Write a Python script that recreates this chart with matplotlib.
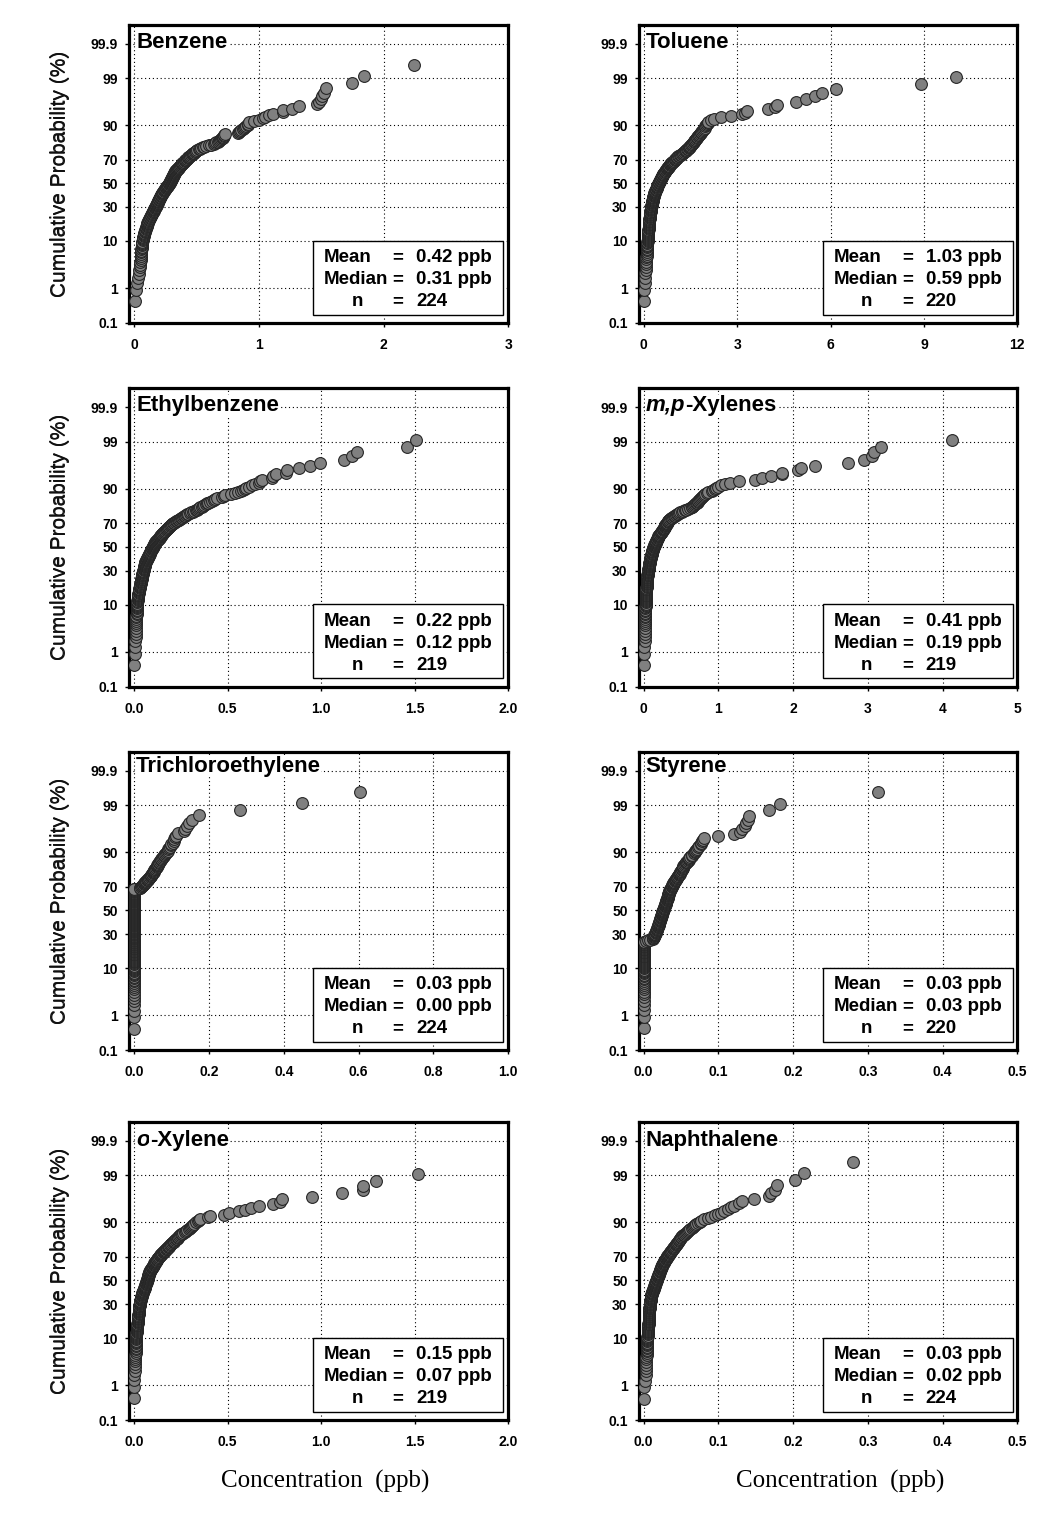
import matplotlib
matplotlib.use('Agg')
import matplotlib.pyplot as plt
from matplotlib.patches import Rectangle
from matplotlib.ticker import NullLocator
from statistics import NormalDist
import numpy as np

plt.rcParams['font.family'] = ['Liberation Sans', 'DejaVu Sans']

# sorted concentrations (ppb)
benzene = [
    0.005, 0.013, 0.02, 0.03, 0.04, 0.042, 0.045, 0.047, 0.05, 0.052,
    0.053, 0.054, 0.055, 0.056, 0.057, 0.058, 0.06, 0.061, 0.062, 0.064, 0.065, 0.067,
    0.069, 0.071, 0.073, 0.075, 0.077, 0.079, 0.081, 0.083, 0.085, 0.087, 0.089, 0.091, 0.093, 0.096,
    0.098, 0.1, 0.102, 0.104, 0.105, 0.107,
    0.11, 0.113, 0.115, 0.118, 0.12, 0.123, 0.126, 0.128, 0.131, 0.134, 0.136, 0.139, 0.142, 0.144, 0.147,
    0.149, 0.151, 0.154, 0.156, 0.158, 0.161, 0.163, 0.165, 0.168, 0.17, 0.172, 0.175, 0.177, 0.18,
    0.182, 0.185, 0.187,
    0.189, 0.191, 0.193, 0.195, 0.197, 0.199, 0.201, 0.203, 0.205, 0.207, 0.209, 0.211, 0.213, 0.215,
    0.217, 0.219, 0.221, 0.224, 0.227,
    0.23, 0.233, 0.236, 0.239, 0.242, 0.245, 0.248, 0.251, 0.254, 0.257, 0.26, 0.263, 0.266, 0.269,
    0.272, 0.275, 0.278, 0.281, 0.284,
    0.286, 0.288, 0.29, 0.292, 0.294, 0.296, 0.298, 0.3, 0.302, 0.304, 0.306, 0.308, 0.31, 0.312,
    0.314, 0.316, 0.318, 0.32, 0.322, 0.324, 0.326, 0.328, 0.33, 0.332,
    0.336, 0.34, 0.344, 0.348, 0.352, 0.356, 0.36, 0.364, 0.368, 0.372, 0.376, 0.379, 0.382, 0.385, 0.388,
    0.392, 0.397, 0.402, 0.407, 0.412, 0.417, 0.422, 0.427, 0.432, 0.436, 0.44,
    0.446, 0.452, 0.458, 0.464, 0.47, 0.476, 0.482, 0.488, 0.494, 0.5, 0.507,
    0.52, 0.53, 0.54, 0.55, 0.56, 0.573, 0.6, 0.62, 0.64, 0.65,
    0.66, 0.67, 0.68, 0.69, 0.7, 0.705, 0.71, 0.715, 0.72, 0.725, 0.733,
    0.83, 0.84, 0.85, 0.86, 0.87, 0.88, 0.89, 0.9, 0.91, 0.915, 0.92,
    0.96, 1.0, 1.03, 1.05, 1.08, 1.11, 1.19, 1.19, 1.27, 1.32,
    1.47, 1.48, 1.5, 1.51, 1.52, 1.54, 1.745, 1.84, 2.245,
]

toluene = [
    0.005, 0.02, 0.035, 0.045, 0.052,
    0.058, 0.064, 0.07, 0.076, 0.082, 0.088, 0.094, 0.1,
    0.102, 0.105, 0.107, 0.11, 0.112, 0.115, 0.117, 0.12, 0.122, 0.125, 0.127, 0.13, 0.132, 0.135,
    0.137, 0.14,
    0.143, 0.146, 0.149, 0.151, 0.154, 0.156, 0.159, 0.161, 0.164, 0.166, 0.169, 0.171, 0.173, 0.175,
    0.177, 0.179, 0.18,
    0.183, 0.186, 0.189, 0.192, 0.195, 0.198, 0.201, 0.204, 0.207, 0.21, 0.213, 0.216, 0.219, 0.222,
    0.225, 0.228, 0.231, 0.234, 0.237, 0.24,
    0.244, 0.248, 0.252, 0.256, 0.26, 0.264, 0.268, 0.272, 0.276, 0.28, 0.284, 0.288, 0.292, 0.296,
    0.3, 0.304, 0.308, 0.312, 0.316, 0.32, 0.324, 0.328, 0.332, 0.336, 0.34,
    0.347, 0.354, 0.361, 0.368, 0.375, 0.382, 0.389, 0.396, 0.403, 0.41, 0.417, 0.424, 0.431, 0.438,
    0.445, 0.452, 0.46, 0.47, 0.48,
    0.488, 0.496, 0.504, 0.512, 0.52, 0.528, 0.536, 0.544, 0.552, 0.56, 0.568, 0.576, 0.584, 0.592,
    0.6, 0.608, 0.616, 0.624, 0.63,
    0.643, 0.656, 0.669, 0.682, 0.695, 0.708, 0.721, 0.734, 0.747, 0.76, 0.773, 0.786, 0.799, 0.812,
    0.825, 0.838, 0.851, 0.865, 0.88,
    0.9, 0.92, 0.94, 0.96, 0.98, 1.0, 1.02, 1.04, 1.06, 1.07, 1.08, 1.1,
    1.13, 1.16, 1.19, 1.22, 1.25, 1.27, 1.3, 1.32, 1.35, 1.37,
    1.39, 1.41, 1.44, 1.46, 1.48, 1.5, 1.52, 1.54, 1.56, 1.58,
    1.6, 1.62, 1.64, 1.66, 1.68, 1.7, 1.72, 1.74,
    1.76, 1.78, 1.8, 1.83, 1.85, 1.88, 1.9,
    1.93, 1.96, 1.98, 2.01, 2.03, 2.05, 2.08,
    2.16, 2.27, 2.47, 2.79, 3.16, 3.24, 3.31, 4.0, 4.23, 4.29, 4.88, 5.2, 5.51, 5.73, 6.18,
    8.92, 10.02, 14.0,
]

ethylbenzene = [
    0.0, 0.004, 0.006, 0.007, 0.008, 0.009, 0.01, 0.01,
    0.011, 0.011, 0.012, 0.012, 0.013, 0.013, 0.014, 0.014, 0.015, 0.015, 0.015, 0.016,
    0.016, 0.017, 0.017, 0.018, 0.018, 0.019, 0.019, 0.02, 0.021, 0.021, 0.022, 0.023, 0.023, 0.024,
    0.025, 0.026, 0.027, 0.028, 0.029, 0.03, 0.031, 0.032, 0.033, 0.034, 0.034, 0.035, 0.036, 0.036,
    0.037, 0.038, 0.038, 0.039, 0.04, 0.04, 0.041, 0.042,
    0.043, 0.044, 0.045, 0.045, 0.046, 0.047, 0.048, 0.048, 0.049, 0.05, 0.051, 0.051, 0.052, 0.053,
    0.054, 0.054, 0.055, 0.056, 0.057, 0.057, 0.058, 0.059, 0.06, 0.06,
    0.061, 0.062, 0.064, 0.065, 0.067, 0.068, 0.07, 0.071, 0.073, 0.074, 0.076, 0.077, 0.078, 0.08,
    0.081, 0.082, 0.083, 0.085, 0.086,
    0.087, 0.088, 0.09, 0.091, 0.093, 0.094, 0.096, 0.097, 0.099, 0.1, 0.101, 0.103, 0.104, 0.106,
    0.107, 0.108, 0.11, 0.111, 0.112,
    0.114, 0.116, 0.119, 0.121, 0.124, 0.126, 0.128, 0.131, 0.133, 0.136, 0.138, 0.14, 0.143, 0.145,
    0.148, 0.15, 0.152, 0.155, 0.157,
    0.159, 0.162, 0.165, 0.168, 0.171, 0.174, 0.177, 0.18, 0.183, 0.186, 0.189, 0.192, 0.195, 0.198,
    0.201, 0.204, 0.208, 0.212,
    0.218, 0.223, 0.229, 0.234, 0.24, 0.245, 0.251, 0.256, 0.262, 0.267, 0.272, 0.278, 0.283,
    0.29, 0.298, 0.306, 0.314, 0.322, 0.33, 0.337,
    0.34, 0.347, 0.354, 0.361, 0.368, 0.375, 0.382,
    0.39, 0.397, 0.405, 0.415, 0.425,
    0.435, 0.444, 0.47, 0.48, 0.488, 0.52, 0.542, 0.555, 0.569, 0.58, 0.595, 0.6, 0.613, 0.63,
    0.649, 0.667, 0.675, 0.684, 0.735, 0.745, 0.756, 0.81, 0.82, 0.88, 0.94, 0.993,
    1.121, 1.166, 1.189, 1.46, 1.508, 2.6,
]

mp_xylenes = [
    0.0, 0.006, 0.01,
    0.011, 0.012, 0.013, 0.014, 0.015, 0.016, 0.016, 0.017, 0.018,
    0.019, 0.019, 0.02, 0.021, 0.021, 0.022, 0.022, 0.023, 0.024, 0.024, 0.025, 0.025, 0.026, 0.027,
    0.027, 0.028, 0.028, 0.029, 0.029, 0.03, 0.03, 0.031,
    0.032, 0.033, 0.033, 0.034, 0.035, 0.036, 0.037, 0.037, 0.038, 0.039, 0.04, 0.041, 0.041, 0.042,
    0.043, 0.044, 0.045, 0.045, 0.046, 0.047, 0.048, 0.048, 0.049,
    0.05, 0.052, 0.053, 0.054, 0.056, 0.057, 0.058, 0.06, 0.061, 0.062, 0.063, 0.065, 0.066, 0.067,
    0.069, 0.07, 0.071, 0.072, 0.074, 0.075, 0.076, 0.077, 0.078, 0.079, 0.08, 0.081, 0.082, 0.084,
    0.085,
    0.087, 0.089, 0.091, 0.093, 0.095, 0.097, 0.099, 0.101, 0.103, 0.105, 0.107, 0.109, 0.111, 0.113,
    0.115, 0.117, 0.119, 0.121, 0.123, 0.125, 0.127, 0.129, 0.132, 0.135, 0.137, 0.14,
    0.143, 0.146, 0.149, 0.152, 0.155, 0.158, 0.161, 0.164, 0.167, 0.17, 0.173, 0.176, 0.179, 0.182,
    0.185, 0.188, 0.191, 0.195, 0.2,
    0.205, 0.21, 0.215, 0.22, 0.225, 0.23, 0.235, 0.24, 0.245, 0.25, 0.255, 0.26, 0.265, 0.27,
    0.274, 0.278, 0.282, 0.285,
    0.29, 0.295, 0.3, 0.305, 0.31, 0.315, 0.32, 0.325, 0.33, 0.337, 0.343, 0.35,
    0.36, 0.375, 0.39, 0.405, 0.415, 0.43, 0.44,
    0.46, 0.475, 0.49, 0.51, 0.53, 0.55, 0.57, 0.59, 0.615, 0.64,
    0.65, 0.66, 0.67, 0.68, 0.695, 0.71,
    0.72, 0.73, 0.74, 0.75, 0.76, 0.78, 0.79, 0.8, 0.82, 0.84, 0.86, 0.91, 0.93, 0.95, 0.97,
    1.0, 1.04, 1.09, 1.15, 1.27, 1.49, 1.58, 1.71, 1.845, 1.85, 2.07, 2.1, 2.29, 2.73, 2.95,
    3.05, 3.08, 3.17, 4.13, 6.0,
]

trichloroethylene = [0.0] * 154 + [
    0.015,
    0.017, 0.018, 0.02, 0.021, 0.023, 0.024, 0.026, 0.027, 0.029, 0.03, 0.032, 0.033,
    0.035, 0.036, 0.038, 0.039, 0.041, 0.042, 0.044, 0.045, 0.046, 0.047, 0.048, 0.05, 0.051,
    0.052, 0.053, 0.054, 0.056, 0.057, 0.058, 0.06, 0.061, 0.062, 0.064, 0.065, 0.066, 0.067,
    0.069, 0.071, 0.073, 0.075, 0.077, 0.079, 0.081, 0.083, 0.085, 0.087, 0.09, 0.092, 0.094,
    0.096, 0.098, 0.1, 0.103, 0.106, 0.108, 0.11, 0.112, 0.118, 0.133, 0.137, 0.142, 0.148,
    0.155, 0.174, 0.283, 0.449, 0.605,
]

styrene = [0.0] * 54 + [
    0.003, 0.006, 0.009, 0.012,
    0.0124, 0.0128, 0.0132, 0.0136, 0.014, 0.0143, 0.0147, 0.015, 0.0154, 0.0158, 0.0162, 0.0165,
    0.0168, 0.017, 0.0173, 0.0176, 0.0178, 0.0181, 0.0184, 0.0186, 0.0189, 0.0192, 0.0194, 0.0197,
    0.02, 0.0202, 0.0204, 0.0207, 0.0209, 0.021,
    0.0212, 0.0215, 0.0217, 0.0219, 0.0221, 0.0224, 0.0226, 0.0228, 0.023, 0.0233, 0.0235, 0.0237,
    0.0239, 0.0241, 0.0243, 0.0245, 0.0247, 0.0249, 0.025,
    0.0253, 0.0255, 0.0258, 0.026, 0.0263, 0.0266, 0.0268, 0.0271, 0.0274, 0.0276, 0.0279, 0.0282,
    0.0284, 0.0287, 0.029, 0.0292, 0.0295, 0.0297, 0.0299, 0.03,
    0.0302, 0.0304, 0.0307, 0.0309, 0.0311, 0.0313, 0.0316, 0.0318, 0.032, 0.0322, 0.0324, 0.0327,
    0.0329, 0.0331, 0.0333, 0.0336, 0.0338, 0.0339, 0.034,
    0.0344, 0.0348, 0.0352, 0.0356, 0.036, 0.0364, 0.0368, 0.0372, 0.0376, 0.038, 0.0384, 0.0388,
    0.0392, 0.0396, 0.04, 0.0405, 0.041,
    0.042, 0.042, 0.043, 0.043, 0.044, 0.045, 0.045, 0.046, 0.046, 0.047, 0.047, 0.048,
    0.049, 0.049, 0.05, 0.05, 0.051, 0.051, 0.052, 0.052, 0.053, 0.053, 0.054,
    0.055, 0.056, 0.057, 0.058, 0.059, 0.06, 0.06, 0.061,
    0.062, 0.064, 0.065, 0.067, 0.068, 0.069, 0.07, 0.071, 0.073, 0.074, 0.076, 0.077, 0.078,
    0.079, 0.08, 0.1, 0.121, 0.129, 0.132, 0.135, 0.137, 0.139, 0.141, 0.168, 0.182, 0.313,
]

o_xylene = [
    0.0, 0.0, 0.001, 0.002, 0.003, 0.004, 0.005, 0.005, 0.006, 0.007,
    0.007, 0.008, 0.008, 0.008, 0.009, 0.009, 0.009, 0.01, 0.01, 0.01, 0.01,
    0.011, 0.011, 0.012, 0.012, 0.013, 0.013, 0.014, 0.014, 0.015, 0.015, 0.016, 0.016, 0.017,
    0.017, 0.018, 0.018, 0.019, 0.019, 0.02,
    0.0204, 0.0208, 0.0212, 0.0215, 0.0219, 0.0223, 0.0227, 0.0231, 0.0235, 0.0238, 0.0242, 0.0246,
    0.025, 0.0254, 0.0258, 0.0262, 0.0265, 0.0269, 0.0273, 0.0277, 0.0281, 0.0285, 0.0288, 0.0292,
    0.0296, 0.03,
    0.0307, 0.0314, 0.0321, 0.0329, 0.0336, 0.0343, 0.035, 0.0357, 0.0364, 0.0371, 0.0379, 0.0386,
    0.0393, 0.04,
    0.041, 0.042, 0.043, 0.044, 0.045, 0.046, 0.047, 0.048, 0.049, 0.05, 0.051, 0.052, 0.053, 0.054,
    0.055, 0.056, 0.057, 0.058, 0.059, 0.06, 0.061, 0.062, 0.063, 0.064, 0.065, 0.066, 0.067, 0.068,
    0.069, 0.07,
    0.0707, 0.0713, 0.072, 0.0727, 0.0733, 0.074, 0.0747, 0.0753, 0.076, 0.0767, 0.0773, 0.078,
    0.0787, 0.0793, 0.08,
    0.082, 0.083, 0.085, 0.087, 0.089, 0.09, 0.092, 0.094, 0.096, 0.097, 0.099, 0.1, 0.102, 0.104,
    0.105, 0.107,
    0.109, 0.111, 0.113, 0.115, 0.117, 0.119, 0.121, 0.123, 0.125, 0.127, 0.129, 0.131, 0.133,
    0.136, 0.139, 0.142, 0.146, 0.149, 0.152, 0.155, 0.159, 0.162, 0.165, 0.168, 0.172, 0.175, 0.178,
    0.181, 0.185, 0.188, 0.191, 0.195,
    0.199, 0.203, 0.207, 0.211, 0.216, 0.22, 0.224, 0.228, 0.233, 0.237, 0.241, 0.245, 0.25,
    0.256, 0.263, 0.27, 0.277, 0.284, 0.291, 0.298, 0.305, 0.31, 0.316, 0.322, 0.33, 0.34,
    0.345, 0.355, 0.395, 0.405, 0.48, 0.506, 0.56, 0.595, 0.627, 0.666, 0.74, 0.78, 0.79, 0.95,
    1.11, 1.222, 1.226, 1.293, 1.518, 2.5,
]

naphthalene = [
    0.0, 0.001, 0.002, 0.0025, 0.003,
    0.0031, 0.0033, 0.0034, 0.0035, 0.0036, 0.0037, 0.0038, 0.0039, 0.004,
    0.0041, 0.0042, 0.0043, 0.0044, 0.0045, 0.0046, 0.0047, 0.0048, 0.0049, 0.005, 0.0051, 0.0052,
    0.0053, 0.0054, 0.0055, 0.0056, 0.0057, 0.0058, 0.0059, 0.006, 0.0062,
    0.0063, 0.0063, 0.0064, 0.0064, 0.0065, 0.0066, 0.0066, 0.0067, 0.0067, 0.0068, 0.0069, 0.0069,
    0.007, 0.007, 0.0071, 0.0072, 0.0072, 0.0073, 0.0073, 0.0074, 0.0075, 0.0075, 0.0076, 0.0076,
    0.0077, 0.0078, 0.0079, 0.008, 0.0081, 0.0082, 0.0083, 0.0084, 0.0085, 0.0086, 0.0087, 0.0088,
    0.0089, 0.009, 0.0091, 0.0092, 0.0093, 0.0094, 0.0095, 0.0096, 0.0097, 0.0097, 0.0098,
    0.01, 0.0103, 0.0105, 0.0108, 0.011, 0.0112, 0.0115, 0.0117, 0.012, 0.0122, 0.0124, 0.0127,
    0.0129, 0.0131, 0.0134, 0.0136, 0.0139, 0.0141, 0.0143,
    0.0145, 0.0148, 0.015, 0.0152, 0.0155, 0.0157, 0.0159, 0.0162, 0.0164, 0.0166, 0.0169, 0.0171,
    0.0173, 0.0176, 0.0178, 0.018, 0.0183, 0.0185, 0.0188, 0.019,
    0.0193, 0.0196, 0.0198, 0.0201, 0.0204, 0.0206, 0.0209, 0.0212, 0.0214, 0.0217, 0.022, 0.0222,
    0.0225, 0.0228, 0.023, 0.0233, 0.0236, 0.0238, 0.0241, 0.0244, 0.0246, 0.0249, 0.0252, 0.0255,
    0.026, 0.0265, 0.027, 0.0274, 0.0279, 0.0284, 0.0288, 0.0293, 0.0298, 0.0302, 0.0307, 0.0311,
    0.0316, 0.032,
    0.0326, 0.0333, 0.0339, 0.0345, 0.0352, 0.0358, 0.0364, 0.0371, 0.0377, 0.0384, 0.039,
    0.0397, 0.0403, 0.041, 0.0416, 0.0423, 0.0429, 0.0436, 0.0442, 0.0449, 0.0455,
    0.0462, 0.0469, 0.0476, 0.0483, 0.049, 0.0498, 0.0505, 0.0512, 0.052,
    0.0535, 0.055, 0.0565, 0.058, 0.0595, 0.061, 0.0625, 0.064, 0.0655, 0.067, 0.0685, 0.07,
    0.072, 0.075,
    0.077, 0.081, 0.086, 0.09, 0.095, 0.099, 0.1035, 0.108, 0.1125, 0.117, 0.121, 0.128, 0.131,
    0.148, 0.167, 0.1705, 0.176, 0.179, 0.203, 0.214, 0.28,
]

series = [benzene, toluene, ethylbenzene, mp_xylenes,
          trichloroethylene, styrene, o_xylene, naphthalene]
titles = ['Benzene', 'Toluene', 'Ethylbenzene', ('m,p', '-Xylenes'),
          'Trichloroethylene', 'Styrene', ('o', '-Xylene'), 'Naphthalene']
means = [0.42, 1.03, 0.22, 0.41, 0.03, 0.03, 0.15, 0.03]
medians = [0.31, 0.59, 0.12, 0.19, 0.00, 0.03, 0.07, 0.02]
counts = [224, 220, 219, 219, 224, 220, 219, 224]
x_max = [3, 12, 2.0, 5, 1.0, 0.5, 2.0, 0.5]
x_step = [1, 3, 0.5, 1, 0.2, 0.1, 0.5, 0.1]
x_decimals = [0, 0, 1, 0, 1, 1, 1, 1]
prob_ticks = [0.1, 1, 10, 30, 50, 70, 90, 99, 99.9]
prob_labels = ['0.1', '1', '10', '30', '50', '70', '90', '99', '99.9']

# normal probability axis
nd = NormalDist()
_ppf = np.vectorize(lambda p: nd.inv_cdf(min(max(p / 100.0, 1e-12), 1 - 1e-12)), otypes=[float])
_cdf = np.vectorize(lambda z: 100.0 * nd.cdf(z), otypes=[float])


def prob_forward(p):
    return _ppf(np.asarray(p, dtype=float))


def prob_inverse(z):
    return _cdf(np.asarray(z, dtype=float))


W, H = 1050, 1514
fig = plt.figure(figsize=(W / 100, H / 100), dpi=100)

col_lr = [(129, 508.3), (638.7, 1017.3)]
row_tb = [(24.7, 322.5), (388, 686.5), (751.5, 1050), (1121.5, 1420)]
title_drop = [18, 18, 15, 19]

for k, vals in enumerate(series):
    r, c = divmod(k, 2)
    x0, x1 = col_lr[c]
    t0, t1 = row_tb[r]
    ax = fig.add_axes([x0 / W, 1 - t1 / H, (x1 - x0) / W, (t1 - t0) / H])
    ax_w, ax_h = x1 - x0, t1 - t0

    conc = np.array(vals)
    n = len(conc)
    prob = 100.0 * np.arange(1, n + 1) / (n + 1)

    ax.set_yscale('function', functions=(prob_forward, prob_inverse))
    ax.scatter(conc, prob, s=72, facecolor='#808080', edgecolor='#262626',
               linewidths=0.8, zorder=3)

    ax.set_ylim(0.1, 99.978)
    ax.set_yticks(prob_ticks)
    ax.set_yticklabels(prob_labels, fontweight='bold')
    ax.yaxis.set_minor_locator(NullLocator())

    xm = x_max[k]
    ax.set_xlim(-0.0135 * xm, xm)
    xt = np.arange(0, xm + x_step[k] / 2, x_step[k])
    ax.set_xticks(xt)
    ax.set_xticklabels([f'{v:.{x_decimals[k]}f}' for v in xt], fontweight='bold')
    ax.xaxis.set_minor_locator(NullLocator())

    ax.tick_params(axis='both', direction='out', length=3, width=1, labelsize=10)
    ax.tick_params(axis='y', pad=5)
    ax.tick_params(axis='x', pad=8)
    ax.grid(True, color='black', linestyle=(0, (1, 2.5)), linewidth=0.8)
    ax.set_axisbelow(True)
    for sp in ax.spines.values():
        sp.set_linewidth(2.3)

    ax.text((60 - x0) / ax_w, 0.5, 'Cumulative Probability (%)', rotation=90,
            ha='center', va='center', fontsize=15, color='#111111',
            transform=ax.transAxes)

    # title, with an italic prefix for the xylenes
    ty = 1 - title_drop[r] / ax_h
    bb = dict(facecolor='white', edgecolor='none', pad=0.3)
    ttl = titles[k]
    if isinstance(ttl, tuple):
        t_it = ax.text(0.0185, ty, ttl[0], transform=ax.transAxes, fontsize=16,
                       fontweight='bold', fontstyle='italic', ha='left', va='center',
                       bbox=bb, zorder=6)
        ax.annotate(ttl[1], xy=(1, 0), xycoords=t_it, fontsize=16, fontweight='bold',
                    ha='left', va='bottom', bbox=bb, zorder=6)
    else:
        ax.text(0.0185, ty, ttl, transform=ax.transAxes, fontsize=16,
                fontweight='bold', ha='left', va='center', bbox=bb, zorder=6)

    # statistics box
    bx0, bx1 = (313 - 129) / ax_w, (503 - 129) / ax_w
    by1 = 1 - (241 - 24.7) / ax_h
    by0 = 1 - (315 - 24.7) / ax_h
    ax.add_patch(Rectangle((bx0, by0), bx1 - bx0, by1 - by0, transform=ax.transAxes,
                           facecolor='white', edgecolor='black', linewidth=1, zorder=5))
    rows = [('Mean', f'{means[k]:.2f} ppb'),
            ('Median', f'{medians[k]:.2f} ppb'),
            ('n', f'{counts[k]}')]
    for j, (lab, val) in enumerate(rows):
        yy = 1 - (258 + 22 * j - 24.7) / ax_h
        if lab == 'n':
            ax.text((357 - 129) / ax_w, yy, lab, transform=ax.transAxes, fontsize=13.5,
                    fontweight='bold', ha='center', va='center', zorder=6)
        else:
            ax.text((324 - 129) / ax_w, yy, lab, transform=ax.transAxes, fontsize=13.5,
                    fontweight='bold', ha='left', va='center', zorder=6)
        ax.text((398 - 129) / ax_w, yy, '=', transform=ax.transAxes, fontsize=13.5,
                fontweight='bold', ha='center', va='center', zorder=6)
        ax.text((416 - 129) / ax_w, yy, val, transform=ax.transAxes, fontsize=13.5,
                fontweight='bold', ha='left', va='center', zorder=6)

for xc in (325, 840):
    fig.text(xc / W, 1 - 1481 / H, 'Concentration  (ppb)', family='Liberation Serif',
             fontsize=18, ha='center', va='center')

fig.savefig('out.png', dpi=100)
